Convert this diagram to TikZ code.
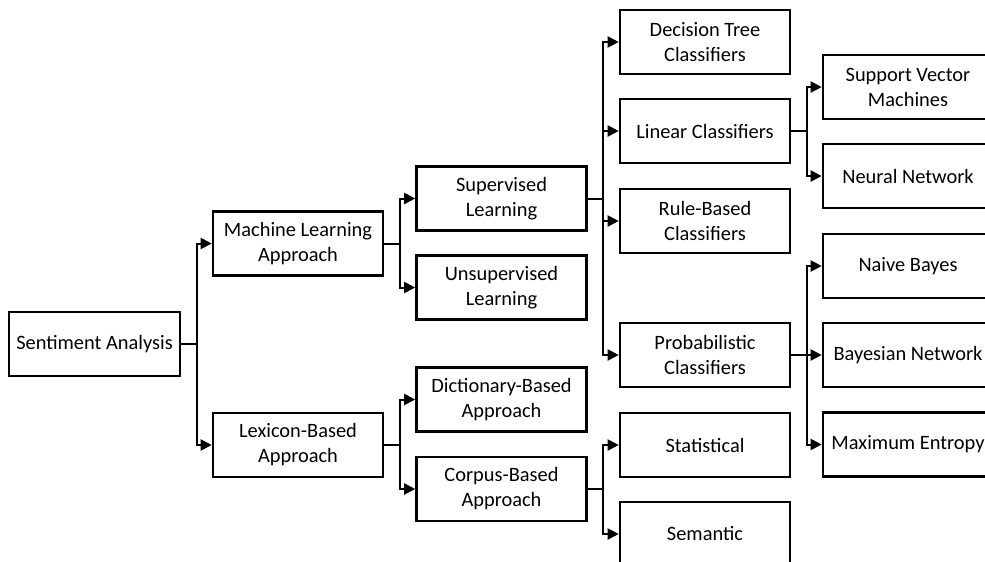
\documentclass[tikz,border=0pt]{standalone}
\usepackage{fontspec}
\setmainfont{Carlito}
\usetikzlibrary{arrows.meta}
\begin{document}
\begin{tikzpicture}[x=1pt,y=-1pt,
  box/.style={draw=black,line width=2.6pt,minimum width=170pt,minimum height=64pt,
    inner sep=0pt,align=center,font=\fontsize{20.4}{25}\selectfont,fill=white},
  conn/.style={line width=2pt},
  arr/.style={line width=2pt,-{Triangle[length=11pt,width=11pt]}}]
\useasboundingbox (0,0) rectangle (985,562);
\clip (0,0) rectangle (985,562);
\fill[white] (0,0) rectangle (985,562);
% nodes
\node[box,minimum width=171pt] (sa) at (94.5,344) {Sentiment Analysis};
\node[box] (ml) at (298,243.5) {Machine Learning\\Approach};
\node[box] (lex) at (298,445) {Lexicon-Based\\Approach};
\node[box] (sup) at (501.5,198.5) {Supervised\\Learning};
\node[box] (uns) at (501.5,287.5) {Unsupervised\\Learning};
\node[box] (dic) at (501.5,399.5) {Dictionary-Based\\Approach};
\node[box] (cor) at (501.5,489) {Corpus-Based\\Approach};
\node[box] (dt) at (705,42) {Decision Tree\\Classifiers};
\node[box] (lin) at (705,131) {Linear Classifiers};
\node[box] (rule) at (705,221) {Rule-Based\\Classifiers};
\node[box] (prob) at (705,355) {Probabilistic\\Classifiers};
\node[box] (stat) at (705,445) {Statistical};
\node[box] (sem) at (705,534) {Semantic};
\node[box] (svm) at (908,87) {Support Vector\\Machines};
\node[box] (nn) at (908,176) {Neural Network};
\node[box] (nb) at (908,266) {Naive Bayes};
\node[box] (bn) at (908,355) {Bayesian Network};
\node[box] (me) at (908,444.5) {Maximum Entropy};
% junctions
\coordinate (j1) at (197,344);
\coordinate (j2) at (400,243.5);
\coordinate (j3) at (400,445);
\coordinate (j4) at (603,198.5);
\coordinate (j5) at (603,489);
\coordinate (j6) at (807,131);
\coordinate (j7) at (807,355);
% connectors
\draw[conn] (sa.east) -- (j1);
\draw[arr] (j1) |- (ml.west);
\draw[arr] (j1) |- (lex.west);
\draw[conn] (ml.east) -- (j2);
\draw[arr] (j2) |- (sup.west);
\draw[arr] (j2) |- (uns.west);
\draw[conn] (lex.east) -- (j3);
\draw[arr] (j3) |- (dic.west);
\draw[arr] (j3) |- (cor.west);
\draw[conn] (sup.east) -- (j4);
\draw[arr] (j4) |- (dt.west);
\draw[arr] (j4) |- (lin.west);
\draw[arr] (j4) |- (rule.west);
\draw[arr] (j4) |- (prob.west);
\draw[conn] (cor.east) -- (j5);
\draw[arr] (j5) |- (stat.west);
\draw[arr] (j5) |- (sem.west);
\draw[conn] (lin.east) -- (j6);
\draw[arr] (j6) |- (svm.west);
\draw[arr] (j6) |- (nn.west);
\draw[conn] (prob.east) -- (j7);
\draw[arr] (j7) |- (nb.west);
\draw[arr] (j7) |- (bn.west);
\draw[arr] (j7) |- (me.west);
\end{tikzpicture}
\end{document}
